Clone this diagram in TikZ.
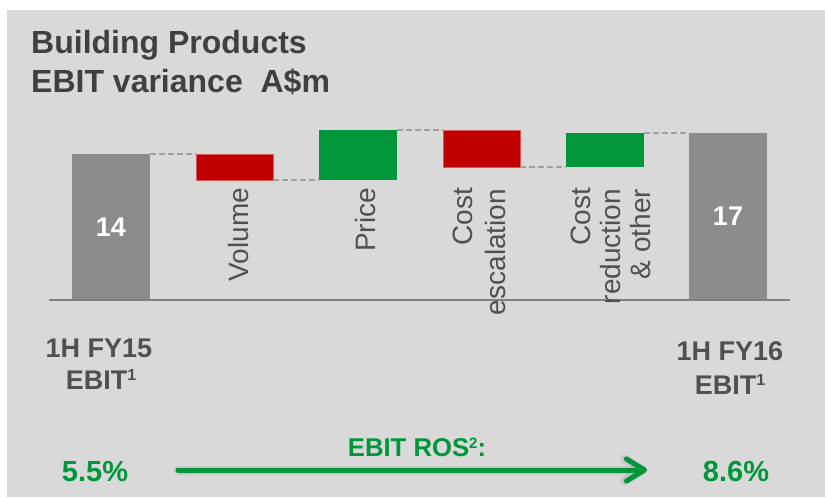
\documentclass[tikz,border=0pt]{standalone}
\usepackage{fontspec}
\setmainfont{Liberation Sans}
\usetikzlibrary{arrows.meta}
\definecolor{bgc}{RGB}{217,217,217}
\definecolor{titlec}{RGB}{64,64,64}
\definecolor{labc}{RGB}{80,80,80}
\definecolor{barg}{RGB}{140,140,140}
\definecolor{axisc}{RGB}{128,128,128}
\definecolor{dashc}{RGB}{160,160,160}
\definecolor{redc}{RGB}{192,0,0}
\definecolor{redl}{RGB}{215,90,90}
\definecolor{greenc}{RGB}{0,150,57}
\begin{document}
\begin{tikzpicture}[x=1pt,y=-1pt,
  barbase/.style={inner sep=0pt, outer sep=0pt, anchor=center, text=white,
     font=\fontsize{27}{30}\selectfont\bfseries},
  totalbar/.style={barbase, fill=barg},
  negbar/.style={barbase, fill=redc, draw=redl, line width=0.7pt},
  posbar/.style={barbase, fill=greenc},
  dashline/.style={draw=dashc, line width=1.5pt, dash pattern=on 6pt off 3pt},
  catlabel/.style={inner sep=0pt, outer sep=0pt, rotate=90, anchor=base east,
     text=labc, font=\fontsize{28}{32}\selectfont},
  titletext/.style={inner sep=0pt, anchor=base west, text=titlec,
     font=\fontsize{32}{38}\selectfont\bfseries},
  periodtext/.style={inner sep=0pt, anchor=base, text=labc,
     font=\fontsize{27}{32}\selectfont\bfseries},
  pcttext/.style={inner sep=0pt, anchor=base, text=greenc,
     font=\fontsize{29}{34}\selectfont\bfseries},
  rostext/.style={inner sep=0pt, anchor=base, text=greenc,
     font=\fontsize{25.7}{30}\selectfont\bfseries},
  ]
\useasboundingbox (0,0) rectangle (825,497);
\fill[bgc] (7,10) rectangle (825,497);

% title
\node[titletext] (t1) at (31,54) {Building Products};
\node[titletext] (t2) at (31,93) {EBIT variance\ \ A\$m};

% bars
\node[totalbar, minimum width=78pt, minimum height=146pt] (b14) at (111,227) {14};
\node[negbar, minimum width=77pt, minimum height=26pt] (vol) at (234.5,167) {};
\node[posbar, minimum width=78pt, minimum height=50pt] (pri) at (358,155) {};
\node[negbar, minimum width=77pt, minimum height=37pt] (ces) at (481.5,148.5) {};
\node[posbar, minimum width=78pt, minimum height=34pt] (cre) at (605,150) {};
\node[totalbar, minimum width=78pt, minimum height=167pt] (b17) at (728,216.5) {17};

% axis
\coordinate (ax1) at (49,300);
\coordinate (ax2) at (790,300);
\draw[axisc, line width=2pt] (ax1) -- (ax2);

% dashed connectors
\draw[dashline] (b14.north east) -- (vol.north west);
\draw[dashline] (vol.south east) -- (pri.south west);
\draw[dashline] (pri.north east) -- (ces.north west);
\draw[dashline] (ces.south east) -- (cre.south west);
\draw[dashline] (cre.north east) -- (b17.north west);

% category labels
\node[catlabel] (lvol) at (248,188) {Volume};
\node[catlabel] (lpri) at (375,188) {Price};
\node[catlabel] (lces1) at (472,188) {Cost};
\node[catlabel] (lces2) at (505,189) {escalation};
\node[catlabel] (lcre1) at (590,188) {Cost};
\node[catlabel] (lcre2) at (620,189) {reduction};
\node[catlabel] (lcre3) at (650,189) {\&\ other};

% period labels
\node[periodtext] (p15a) at (99,357) {1H FY15};
\node[periodtext] (p15b) at (101,389) {EBIT\raisebox{0.3em}{\fontsize{16}{16}\selectfont 1}};
\node[periodtext] (p16a) at (730,360) {1H FY16};
\node[periodtext] (p16b) at (730,394) {EBIT\raisebox{0.3em}{\fontsize{16}{16}\selectfont 1}};

% ROS
\node[pcttext] (r15) at (95,481) {5.5\%};
\node[pcttext] (r16) at (736,481) {8.6\%};
\node[rostext] (ros) at (417,456) {EBIT ROS\raisebox{0.3em}{\fontsize{15}{15}\selectfont 2}:};

\coordinate (ra) at (178,470);
\coordinate (rb) at (647,470);
\begin{scope}[shift={(2,4)}]
\draw[black, opacity=0.08, line width=9pt, line cap=round,
  -{Straight Barb[length=18pt, width=22pt, round]}] (ra) -- (rb);
\draw[black, opacity=0.15, line width=5pt, line cap=round,
  -{Straight Barb[length=18pt, width=22pt, round]}] (ra) -- (rb);
\end{scope}
\draw[greenc, line width=5pt, line cap=round,
  -{Straight Barb[length=18pt, width=22pt, round]}] (ra) -- (rb);
\end{tikzpicture}
\end{document}
